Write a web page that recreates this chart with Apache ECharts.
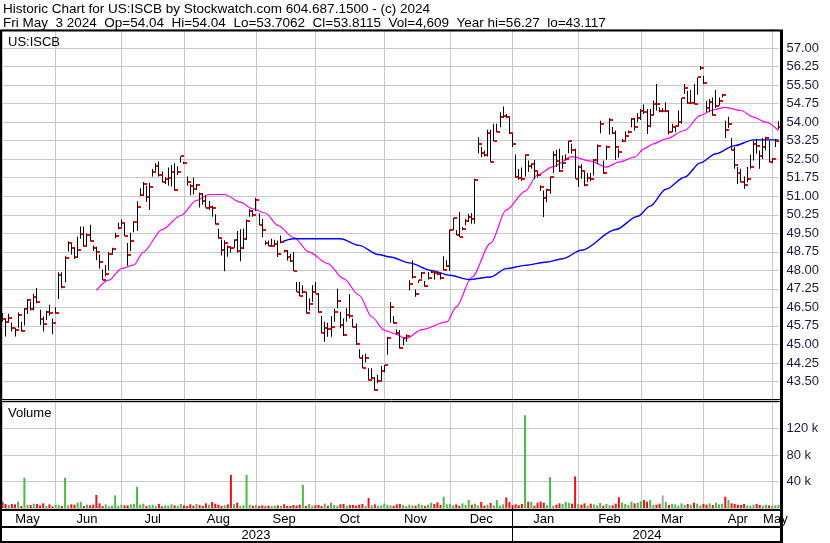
<!DOCTYPE html>
<html>
<head>
<meta charset="utf-8">
<script src="https://cdn.jsdelivr.net/npm/echarts@6/dist/echarts.min.js"></script>
<style>
html,body{margin:0;padding:0;background:#fff;}
#chart{width:830px;height:543px;}
</style>
</head>
<body>
<div id="chart"></div>
<script>
// ---- trading days shown (one day without trades, 2023-09-05, has no bar) ----
const dates = [
'2023-05-08','2023-05-09','2023-05-10','2023-05-11','2023-05-12','2023-05-15','2023-05-16','2023-05-17','2023-05-18','2023-05-19','2023-05-22','2023-05-23','2023-05-24','2023-05-25','2023-05-26','2023-05-30','2023-05-31',
'2023-06-01','2023-06-02','2023-06-05','2023-06-06','2023-06-07','2023-06-08','2023-06-09','2023-06-12','2023-06-13','2023-06-14','2023-06-15','2023-06-16','2023-06-20','2023-06-21','2023-06-22','2023-06-23','2023-06-26','2023-06-27','2023-06-28','2023-06-29','2023-06-30',
'2023-07-03','2023-07-05','2023-07-06','2023-07-07','2023-07-10','2023-07-11','2023-07-12','2023-07-13','2023-07-14','2023-07-17','2023-07-18','2023-07-19','2023-07-20','2023-07-21','2023-07-24','2023-07-25','2023-07-26','2023-07-27','2023-07-28','2023-07-31',
'2023-08-01','2023-08-02','2023-08-03','2023-08-04','2023-08-07','2023-08-08','2023-08-09','2023-08-10','2023-08-11','2023-08-14','2023-08-15','2023-08-16','2023-08-17','2023-08-18','2023-08-21','2023-08-22','2023-08-23','2023-08-24','2023-08-25','2023-08-28','2023-08-29','2023-08-30','2023-08-31',
'2023-09-01','2023-09-06','2023-09-07','2023-09-08','2023-09-11','2023-09-12','2023-09-13','2023-09-14','2023-09-15','2023-09-18','2023-09-19','2023-09-20','2023-09-21','2023-09-22','2023-09-25','2023-09-26','2023-09-27','2023-09-28','2023-09-29',
'2023-10-02','2023-10-03','2023-10-04','2023-10-05','2023-10-06','2023-10-09','2023-10-10','2023-10-11','2023-10-12','2023-10-13','2023-10-16','2023-10-17','2023-10-18','2023-10-19','2023-10-20','2023-10-23','2023-10-24','2023-10-25','2023-10-26','2023-10-27','2023-10-30','2023-10-31',
'2023-11-01','2023-11-02','2023-11-03','2023-11-06','2023-11-07','2023-11-08','2023-11-09','2023-11-10','2023-11-13','2023-11-14','2023-11-15','2023-11-16','2023-11-17','2023-11-20','2023-11-21','2023-11-22','2023-11-24','2023-11-27','2023-11-28','2023-11-29','2023-11-30',
'2023-12-01','2023-12-04','2023-12-05','2023-12-06','2023-12-07','2023-12-08','2023-12-11','2023-12-12','2023-12-13','2023-12-14','2023-12-15','2023-12-18','2023-12-19','2023-12-20','2023-12-21','2023-12-22','2023-12-26','2023-12-27','2023-12-28','2023-12-29',
'2024-01-02','2024-01-03','2024-01-04','2024-01-05','2024-01-08','2024-01-09','2024-01-10','2024-01-11','2024-01-12','2024-01-16','2024-01-17','2024-01-18','2024-01-19','2024-01-22','2024-01-23','2024-01-24','2024-01-25','2024-01-26','2024-01-29','2024-01-30','2024-01-31',
'2024-02-01','2024-02-02','2024-02-05','2024-02-06','2024-02-07','2024-02-08','2024-02-09','2024-02-12','2024-02-13','2024-02-14','2024-02-15','2024-02-16','2024-02-20','2024-02-21','2024-02-22','2024-02-23','2024-02-26','2024-02-27','2024-02-28','2024-02-29',
'2024-03-01','2024-03-04','2024-03-05','2024-03-06','2024-03-07','2024-03-08','2024-03-11','2024-03-12','2024-03-13','2024-03-14','2024-03-15','2024-03-18','2024-03-19','2024-03-20','2024-03-21','2024-03-22','2024-03-25','2024-03-26','2024-03-27','2024-03-28',
'2024-04-01','2024-04-02','2024-04-03','2024-04-04','2024-04-05','2024-04-08','2024-04-09','2024-04-10','2024-04-11','2024-04-12','2024-04-15','2024-04-16','2024-04-17','2024-04-18','2024-04-19','2024-04-22','2024-04-23','2024-04-24','2024-04-25','2024-04-26','2024-04-29','2024-04-30',
'2024-05-01','2024-05-02','2024-05-03'
];

const highs = [
46.27,46.02,46.24,45.89,45.68,46.29,45.93,46.47,46.84,46.74,47.05,47.28,46.40,46.13,46.36,46.61,46.05,
46.51,47.92,47.92,48.57,49.18,49.09,48.91,49.36,49.77,49.77,49.49,49.85,49.01,48.95,48.64,48.03,48.22,48.73,48.91,49.52,49.93,
50.06,49.90,49.11,49.52,49.99,50.80,51.32,51.58,51.42,51.55,52.10,52.34,52.41,52.00,51.76,52.16,52.26,52.34,52.21,52.61,
52.40,51.80,51.49,51.76,51.49,51.15,51.12,51.04,50.81,50.61,50.27,49.68,49.25,49.22,49.01,48.95,49.25,49.59,49.66,49.68,50.06,50.47,50.44,
50.94,50.31,50.08,49.21,49.21,49.28,49.24,49.21,49.41,48.83,48.81,48.67,48.74,47.53,47.53,47.40,47.13,46.86,47.40,
47.53,47.06,46.15,45.92,45.88,46.15,46.44,47.25,46.32,46.05,46.46,47.04,46.05,45.85,44.80,44.58,44.62,44.04,44.04,43.67,43.77,44.13,
44.17,45.31,46.72,46.15,45.60,45.58,45.28,45.41,47.60,48.41,47.22,47.60,47.93,47.57,47.93,48.00,47.97,47.93,47.89,48.57,48.41,
49.65,50.13,49.62,50.36,49.75,50.09,50.29,50.32,51.71,53.39,52.99,52.85,53.69,53.69,53.93,53.93,54.40,54.63,54.33,54.17,
53.52,52.69,52.10,52.16,52.69,52.45,52.34,52.47,51.98,51.44,51.23,51.30,51.80,52.82,52.88,52.92,52.65,52.69,53.25,53.12,52.92,
52.24,52.29,51.98,51.94,51.94,52.51,53.09,54.06,52.45,53.05,54.17,53.80,53.66,52.92,53.32,53.63,53.66,54.17,54.17,54.36,
54.53,54.71,54.53,54.53,54.87,55.54,54.60,54.57,54.80,54.47,53.93,53.86,54.47,54.98,55.54,55.27,55.30,55.54,55.81,56.27,
55.88,54.87,54.94,55.00,55.30,55.00,55.14,54.06,54.22,53.36,52.99,52.18,52.11,51.80,52.18,52.69,53.25,53.32,52.85,53.36,53.41,53.25,
52.55,53.32,54.04
];

const lows = [
45.93,45.32,45.93,45.52,45.32,45.68,45.52,45.77,46.23,46.37,46.37,46.67,45.79,45.52,45.99,46.16,45.41,
46.24,46.84,47.27,47.51,48.76,48.64,48.46,48.50,49.28,48.95,48.98,49.17,48.78,48.41,48.06,47.60,47.76,48.00,48.63,49.30,49.66,
49.77,49.38,48.19,48.78,49.54,49.59,51.01,51.04,50.77,50.44,51.80,52.03,51.80,51.56,51.49,51.42,51.39,51.22,51.86,52.37,
52.30,51.42,51.04,51.08,51.28,50.54,50.67,50.54,50.44,50.17,49.86,49.28,48.60,47.96,48.55,48.71,48.91,48.71,48.37,48.87,49.25,50.17,50.17,
50.40,49.82,49.34,49.03,48.97,48.97,49.01,48.54,49.10,48.73,48.40,48.34,47.97,47.13,46.95,47.06,46.25,46.36,46.72,
47.06,46.28,45.45,45.11,45.31,45.31,45.92,46.46,45.65,45.34,45.92,46.05,45.69,44.98,44.44,44.04,44.27,43.54,43.60,43.12,43.43,43.50,
43.87,44.58,45.88,45.85,45.38,44.84,44.97,45.11,47.19,47.67,46.93,47.49,47.67,47.33,47.63,47.89,47.63,47.80,47.63,48.00,48.14,
47.98,49.62,49.42,49.35,49.62,49.82,49.96,49.89,49.89,52.74,52.58,52.61,52.61,52.38,53.23,53.59,53.79,54.17,54.17,53.52,
52.99,51.75,51.67,51.62,51.80,51.98,52.11,51.70,51.77,51.21,50.16,50.76,51.10,51.94,52.18,51.98,52.11,52.45,52.74,52.72,51.71,
51.37,51.71,51.40,51.57,51.61,51.84,52.31,53.55,51.91,52.47,53.50,53.52,52.47,52.56,53.19,53.28,53.55,53.79,53.66,54.00,
54.09,54.33,53.52,53.79,54.30,54.47,54.40,54.40,54.40,53.50,53.59,53.59,53.86,53.93,55.14,54.74,54.74,54.71,55.11,56.11,
55.54,54.40,54.40,54.26,54.57,54.67,55.00,53.36,53.77,52.85,52.11,51.50,51.57,51.30,51.57,52.11,52.45,52.72,52.11,52.51,52.85,52.38,
52.34,52.99,53.71
];

const closes = [
46.04,45.91,46.09,45.68,45.59,46.21,45.56,46.44,46.81,46.44,46.94,46.70,46.04,45.81,46.32,46.28,45.85,
46.29,47.80,47.31,48.49,49.10,48.90,48.52,48.84,49.49,48.98,49.43,49.18,48.91,48.73,48.33,47.62,47.87,48.68,48.87,49.38,49.71,
49.90,49.38,48.61,49.18,49.96,50.57,51.06,51.50,50.98,51.38,52.00,52.23,51.87,51.58,51.70,51.72,51.99,51.26,51.99,52.61,
52.34,51.58,51.42,51.28,51.45,51.08,50.81,50.54,50.57,50.51,49.86,49.30,48.82,49.12,48.94,48.91,49.22,48.78,48.91,49.28,49.99,50.40,50.23,
50.85,49.82,49.63,49.10,48.97,48.99,49.07,48.67,49.14,48.78,48.54,48.36,47.97,47.13,46.95,47.13,46.28,46.62,47.13,
47.06,46.30,45.48,45.65,45.63,45.69,46.31,46.76,45.78,45.38,46.19,46.15,45.69,45.02,44.44,44.04,44.44,43.57,43.64,43.14,43.50,43.91,
44.17,45.28,46.52,45.88,45.47,44.84,45.28,45.35,47.46,47.73,47.03,47.60,47.89,47.37,47.69,47.93,47.91,47.87,47.69,48.03,48.18,
49.62,50.12,49.44,49.35,49.69,49.99,50.16,50.09,51.67,53.12,52.74,52.68,53.55,52.38,53.23,53.59,54.20,54.25,54.20,53.55,
53.12,51.77,51.73,51.71,52.65,52.23,52.29,52.04,51.84,51.37,50.94,51.24,51.77,52.65,52.42,52.02,52.34,52.50,53.23,52.88,51.71,
52.20,52.02,51.44,51.75,51.71,52.45,53.05,53.93,51.94,53.01,54.09,53.55,53.01,52.78,53.23,53.42,53.59,54.12,53.79,54.17,
54.47,54.40,53.86,54.30,54.74,54.72,54.44,54.44,54.47,53.59,53.82,53.84,53.99,54.98,55.37,54.76,54.78,54.74,55.81,56.19,
55.57,54.57,54.80,54.29,54.67,54.87,55.10,53.70,53.93,52.89,52.28,51.93,51.57,51.44,51.71,52.20,53.12,53.05,52.61,53.01,53.36,52.38,
52.51,53.23,53.81
];

const volumes = [
9500,6000,4500,6000,5500,9500,3000,45700,5000,4500,6500,6000,4000,7000,3000,5500,2500,
5000,4500,3000,45700,4000,5500,5000,8000,9500,3000,5000,4000,5000,19600,7000,3000,5500,2500,3500,19000,3500,
5000,4000,4000,5500,6000,32000,5000,6500,3000,4500,5000,3000,6000,2500,4000,3500,5500,4000,3500,6000,
4000,3000,5500,3500,6000,4500,3000,7000,5000,9000,6500,5000,3000,4000,5500,49800,6000,8000,3500,4000,49800,5000,3500,
4500,3000,4000,2500,3500,3000,3500,4000,3000,5500,3000,3000,4500,3500,5000,34700,3000,6000,3500,
4000,4500,3000,6500,3500,8000,4500,3500,5500,6000,3000,4500,4500,3500,5000,6000,3000,15000,4000,5500,3500,4000,
6500,5000,4000,3500,5500,6000,4500,3000,5000,4000,3500,6500,4500,3000,5000,8000,6000,8500,4500,17000,5500,
6000,4000,5500,3500,7000,4500,12000,5000,6500,4000,9000,3500,5000,7500,4000,12000,3500,5500,16000,9000,
4500,5500,4000,6000,140000,9500,9500,3500,8000,9500,8000,4500,46700,3500,5000,7000,6000,9500,8000,6500,47800,
6000,5000,7000,3500,6500,5500,4000,7500,3500,6000,4000,4000,6500,16000,8000,6000,4500,9500,7000,8000,
10000,12000,9500,12000,4500,5000,6500,19000,9000,4500,6000,5500,3500,7000,4500,6000,5000,8000,6500,4000,
6000,5000,7000,4500,8000,5500,6500,17000,12000,7000,6000,5000,4500,6000,4000,3500,5000,6000,4500,3500,5000,4000,
3500,4000,4609
];

// moving averages: [date, value]
const maShort = [
['2023-06-21',47.19],['2023-06-27',47.60],['2023-07-03',48.07],['2023-07-10',48.22],['2023-07-13',48.74],['2023-07-21',49.65],
['2023-07-31',50.22],['2023-08-07',50.83],['2023-08-11',51.07],['2023-08-18',51.07],['2023-08-25',50.76],['2023-08-31',50.49],
['2023-09-08',50.32],['2023-09-14',49.82],['2023-09-21',49.34],['2023-09-28',48.74],['2023-10-06',48.27],['2023-10-13',47.66],
['2023-10-20',46.99],['2023-10-26',46.12],['2023-11-01',45.58],['2023-11-06',45.45],['2023-11-10',45.24],['2023-11-17',45.60],
['2023-11-30',45.91],['2023-12-05',46.52],['2023-12-12',47.72],['2023-12-20',49.10],['2023-12-28',50.45],['2024-01-08',51.20],
['2024-01-12',51.87],['2024-01-22',52.20],['2024-01-30',52.60],['2024-02-07',52.42],['2024-02-14',52.18],['2024-02-21',52.38],
['2024-02-28',52.58],['2024-03-04',52.92],['2024-03-07',53.12],['2024-03-13',53.32],['2024-03-21',53.66],['2024-03-28',54.27],
['2024-04-04',54.49],['2024-04-10',54.60],['2024-04-17',54.47],['2024-04-23',54.20],['2024-04-29',54.00],['2024-05-03',53.66]
];
const maLong = [
['2023-09-15',49.14],['2023-09-21',49.28],['2023-10-12',49.28],['2023-10-20',49.01],['2023-10-30',48.64],['2023-11-03',48.54],
['2023-11-13',48.30],['2023-11-22',48.00],['2023-12-01',47.80],['2023-12-11',47.63],['2023-12-20',47.73],['2023-12-28',48.07],
['2024-01-08',48.20],['2024-01-18',48.34],['2024-01-25',48.47],['2024-02-02',48.81],['2024-02-20',49.65],['2024-02-29',50.19],
['2024-03-06',50.60],['2024-03-13',51.28],['2024-03-21',51.77],['2024-03-28',52.35],['2024-04-05',52.72],['2024-04-15',53.05],
['2024-04-23',53.28],['2024-05-03',53.28]
];

const monthNames = ['Jan','Feb','Mar','Apr','May','Jun','Jul','Aug','Sep','Oct','Nov','Dec'];
const priceTicks = {min: 42.75, max: 57.75, step: 0.75};
const volumeTicks = {min: 0, max: 160000, step: 40000};

// ---- derived layout helpers ----
const monthGroups = {}, yearGroups = {};
dates.forEach((d, i) => {
  const m = d.slice(0, 7), y = d.slice(0, 4);
  (monthGroups[m] = monthGroups[m] || []).push(i);
  (yearGroups[y] = yearGroups[y] || []).push(i);
});
const monthStart = new Set(), monthMid = new Set(), yearStart = new Set(), yearMid = new Set();
Object.values(monthGroups).forEach(a => { monthStart.add(a[0]); monthMid.add(Math.ceil((a[0] + a[a.length - 1]) / 2)); });
Object.values(yearGroups).forEach((a, k) => { if (k > 0) yearStart.add(a[0]); yearMid.add(Math.round((a[0] + a[a.length - 1]) / 2)); });

const hlc = dates.map((d, i) => [i, highs[i], lows[i], closes[i]]);
const volData = volumes.map((v, i) => {
  let c = '#ee1111';
  if (i > 0) c = closes[i] > closes[i - 1] ? '#4cb848' : (closes[i] < closes[i - 1] ? '#ee1111' : '#a8a8a8');
  return {value: v, itemStyle: {color: c}};
});

const FONT = 'Liberation Sans, Arial, sans-serif';
const gridColor = '#c8c8c8';
const labelColor = '#1a1a40';

function hlcItem(params, api) {
  const i = api.value(0);
  const pH = api.coord([i, api.value(1)]);
  const pL = api.coord([i, api.value(2)]);
  const pC = api.coord([i, api.value(3)]);
  const x = Math.floor(pH[0]);
  return {
    type: 'group',
    children: [
      {type: 'rect', shape: {x: x, y: pH[1], width: 1, height: Math.max(1, pL[1] - pH[1])}, style: {fill: '#000'}},
      {type: 'rect', shape: {x: x + 1, y: Math.round(pC[1]) - 1, width: 3, height: 2}, style: {fill: '#ff0000'}}
    ]
  };
}

const chart = echarts.init(document.getElementById('chart'), null, {renderer: 'canvas'});
const near = (a, b) => Math.abs(a - b) < 1e-6;

chart.setOption({
  animation: false,
  backgroundColor: '#fff',
  grid: [
    {left: 2.5, right: 51.5, top: 29.5, height: 370.5},
    {left: 2.5, right: 51.5, top: 402, height: 106}
  ],
  xAxis: [
    {type: 'category', gridIndex: 0, data: dates, boundaryGap: false,
     axisLine: {show: false}, axisTick: {show: false}, axisLabel: {show: false},
     splitLine: {show: true, interval: (i) => monthStart.has(i), lineStyle: {color: gridColor, width: 1}}},
    {type: 'category', gridIndex: 1, data: dates, boundaryGap: false, position: 'bottom', offset: 0,
     axisLine: {show: false}, axisTick: {show: false},
     axisLabel: {show: true, interval: (i) => monthMid.has(i), margin: 5, fontSize: 13, fontFamily: FONT, color: '#000',
       formatter: (v) => monthNames[parseInt(v.slice(5, 7), 10) - 1]},
     splitLine: {show: true, interval: (i) => monthStart.has(i), lineStyle: {color: gridColor, width: 1}}},
    {type: 'category', gridIndex: 1, data: dates, boundaryGap: false, position: 'bottom', offset: 0,
     axisLine: {show: false},
     axisTick: {show: true, interval: (i) => yearStart.has(i), length: 35, lineStyle: {color: '#000', width: 1}},
     axisLabel: {show: true, interval: (i) => yearMid.has(i), margin: 21, fontSize: 13, fontFamily: FONT, color: '#000',
       formatter: (v) => v.slice(0, 4)},
     splitLine: {show: false}}
  ],
  yAxis: [
    {type: 'value', gridIndex: 0, position: 'right', min: priceTicks.min, max: priceTicks.max, interval: priceTicks.step,
     axisLine: {show: false}, axisTick: {show: false},
     axisLabel: {margin: 8, fontSize: 13, fontFamily: FONT, color: labelColor,
       formatter: (v) => (near(v, priceTicks.min) || near(v, priceTicks.max)) ? '' : v.toFixed(2)},
     splitLine: {show: true, lineStyle: {color: gridColor, width: 1}}},
    {type: 'value', gridIndex: 1, position: 'right', min: volumeTicks.min, max: volumeTicks.max, interval: volumeTicks.step,
     axisLine: {show: false}, axisTick: {show: false},
     axisLabel: {margin: 8, fontSize: 13, fontFamily: FONT, color: labelColor,
       formatter: (v) => (v === volumeTicks.min || v === volumeTicks.max) ? '' : (v / 1000) + ' k'},
     splitLine: {show: true, lineStyle: {color: gridColor, width: 1}}}
  ],
  series: [
    {type: 'line', xAxisIndex: 0, yAxisIndex: 0, data: maShort, showSymbol: false, symbol: 'none', silent: true,
     smooth: 0.3, smoothMonotone: 'x', lineStyle: {color: '#ff00ff', width: 1.2}, z: 3},
    {type: 'line', xAxisIndex: 0, yAxisIndex: 0, data: maLong, showSymbol: false, symbol: 'none', silent: true,
     smooth: 0.3, smoothMonotone: 'x', lineStyle: {color: '#0000ff', width: 1.4}, z: 3},
    {type: 'custom', xAxisIndex: 0, yAxisIndex: 0, data: hlc, renderItem: hlcItem,
     encode: {x: 0, y: [1, 2, 3]}, z: 4, silent: true},
    {type: 'bar', xAxisIndex: 1, yAxisIndex: 1, data: volData, barWidth: 2, silent: true, z: 3}
  ],
  graphic: [
    {type: 'text', z: 100, style: {text: 'Historic Chart for US:ISCB by Stockwatch.com 604.687.1500 - (c) 2024', x: 3, y: 9, verticalAlign: 'middle', font: '13.5px ' + FONT, fill: '#000'}},
    {type: 'text', z: 100, style: {text: 'Fri May  3 2024  Op=54.04  Hi=54.04  Lo=53.7062  Cl=53.8115  Vol=4,609  Year hi=56.27  lo=43.117', x: 3, y: 23.5, verticalAlign: 'middle', font: '13.5px ' + FONT, fill: '#000'}},
    {type: 'text', z: 100, style: {text: 'US:ISCB', x: 8, y: 42, verticalAlign: 'middle', font: '13px ' + FONT, fill: '#000'}},
    {type: 'text', z: 100, style: {text: 'Volume', x: 8, y: 413, verticalAlign: 'middle', font: '13px ' + FONT, fill: '#000'}},
    {type: 'line', z: 100, shape: {x1: 0, y1: 30.5, x2: 783, y2: 30.5}, style: {stroke: '#000', lineWidth: 2}},
    {type: 'line', z: 100, shape: {x1: 0, y1: 399.5, x2: 783, y2: 399.5}, style: {stroke: '#000', lineWidth: 1}},
    {type: 'line', z: 100, shape: {x1: 0, y1: 401.5, x2: 783, y2: 401.5}, style: {stroke: '#000', lineWidth: 1}},
    {type: 'line', z: 100, shape: {x1: 0, y1: 510, x2: 783, y2: 510}, style: {stroke: '#000', lineWidth: 2}},
    {type: 'line', z: 100, shape: {x1: 0, y1: 527, x2: 783, y2: 527}, style: {stroke: '#000', lineWidth: 2}},
    {type: 'line', z: 100, shape: {x1: 0, y1: 542, x2: 783, y2: 542}, style: {stroke: '#000', lineWidth: 2}},
    {type: 'line', z: 100, shape: {x1: 1, y1: 30, x2: 1, y2: 543}, style: {stroke: '#000', lineWidth: 2}},
    {type: 'line', z: 100, shape: {x1: 781.5, y1: 30, x2: 781.5, y2: 543}, style: {stroke: '#000', lineWidth: 3}}
  ]
});
</script>
</body>
</html>
